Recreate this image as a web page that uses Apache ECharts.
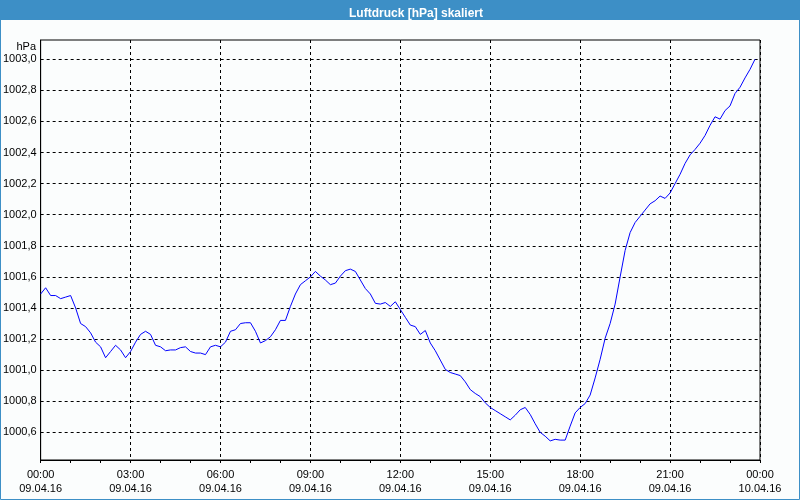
<!DOCTYPE html>
<html>
<head>
<meta charset="utf-8">
<script src="https://cdn.jsdelivr.net/npm/echarts@6/dist/echarts.min.js"></script>
<style>html,body{margin:0;padding:0;background:#fbfdfd}#c{width:800px;height:500px}</style>
</head>
<body>
<div id="c"></div>
<script>
// Sampling: one reading every 10 minutes from 00:00 (09.04.16) to 23:50
const stepMinutes = 10;
// Air pressure readings [hPa]
const pressure = [
  1001.49,1001.53,1001.48,1001.48,1001.46,1001.47,1001.48,1001.40,1001.30,1001.28,
  1001.24,1001.18,1001.15,1001.08,1001.12,1001.16,1001.13,1001.08,1001.12,1001.18,
  1001.23,1001.25,1001.23,1001.16,1001.15,1001.125,1001.13,1001.13,1001.145,1001.15,
  1001.12,1001.11,1001.11,1001.10,1001.15,1001.16,1001.15,1001.18,1001.25,1001.26,
  1001.30,1001.305,1001.305,1001.25,1001.175,1001.19,1001.215,1001.26,1001.32,1001.32,
  1001.41,1001.49,1001.55,1001.575,1001.60,1001.635,1001.605,1001.58,1001.55,1001.56,
  1001.605,1001.64,1001.65,1001.635,1001.58,1001.525,1001.49,1001.43,1001.425,1001.435,
  1001.41,1001.44,1001.39,1001.34,1001.29,1001.28,1001.23,1001.255,1001.175,1001.125,
  1001.065,1001.005,1000.985,1000.975,1000.965,1000.925,1000.875,1000.85,1000.83,1000.79,
  1000.76,1000.74,1000.72,1000.70,1000.68,1000.71,1000.745,1000.76,1000.715,1000.655,
  1000.60,1000.575,1000.545,1000.555,1000.55,1000.55,1000.64,1000.725,1000.76,1000.785,
  1000.84,1000.95,1001.07,1001.205,1001.30,1001.425,1001.60,1001.77,1001.885,1001.95,
  1001.99,1002.03,1002.07,1002.09,1002.12,1002.105,1002.14,1002.20,1002.26,1002.33,
  1002.385,1002.42,1002.46,1002.51,1002.575,1002.63,1002.615,1002.67,1002.70,1002.78,
  1002.82,1002.88,1002.935,1003.00
];
// Axis labels
const hourLabels = ['00:00','03:00','06:00','09:00','12:00','15:00','18:00','21:00','00:00'];
const dateLabels = ['09.04.16','09.04.16','09.04.16','09.04.16','09.04.16','09.04.16','09.04.16','09.04.16','10.04.16'];
const yTicks = [1000.6,1000.8,1001.0,1001.2,1001.4,1001.6,1001.8,1002.0,1002.2,1002.4,1002.6,1002.8,1003.0];

const seriesData = pressure.map((v, i) => [i * stepMinutes, v]);

const font = 'Liberation Sans, Arial, sans-serif';
const chart = echarts.init(document.getElementById('c'), null, {renderer: 'canvas'});
chart.setOption({
  animation: false,
  backgroundColor: '#fbfdfd',
  title: {
    text: 'Luftdruck [hPa] skaliert',
    left: 411, top: 3, textAlign: 'center',
    textStyle: {color: '#ffffff', fontSize: 12, fontWeight: 'bold', fontFamily: font}
  },
  graphic: [
    {type: 'rect', z: -1, shape: {x: 0, y: 0, width: 800, height: 20}, style: {fill: '#3d8fc6'}},
    {type: 'rect', z: 10, silent: true, shape: {x: 0.5, y: 0.5, width: 799, height: 499}, style: {fill: 'none', stroke: '#3d8fc6', lineWidth: 1}},
    {type: 'text', x: 36, y: 47, style: {text: 'hPa', fill: '#000', font: '11px ' + font, textAlign: 'right', textVerticalAlign: 'middle'}}
  ],
  grid: {left: 40, right: 40, top: 40, bottom: 40, show: true, borderColor: '#000', borderWidth: 1, backgroundColor: 'transparent'},
  xAxis: {
    type: 'value', min: 0, max: 1440, interval: 180,
    axisLine: {lineStyle: {color: '#000', width: 1}},
    axisTick: {show: true, length: 3, lineStyle: {color: '#000'}},
    minorTick: {show: true, splitNumber: 3, length: 3, lineStyle: {color: '#000'}},
    minorSplitLine: {show: false},
    splitLine: {show: true, lineStyle: {color: '#000', type: [3, 3], width: 1}},
    axisLabel: {
      margin: 8, color: '#000', fontSize: 11, fontFamily: font, lineHeight: 14,
      formatter: v => { const k = Math.round(v / 180); return hourLabels[k] + '\n' + dateLabels[k]; }
    }
  },
  yAxis: {
    type: 'value', min: 1000.422, max: 1003.124,
    axisLine: {show: true, lineStyle: {color: '#000', width: 1}},
    axisTick: {show: false, customValues: yTicks},
    splitLine: {show: true, lineStyle: {color: '#000', type: [3, 3], width: 1}},
    axisLabel: {
      customValues: yTicks, margin: 4, color: '#000', fontSize: 11, fontFamily: font,
      formatter: v => v.toFixed(1).replace('.', ',')
    }
  },
  series: [{
    type: 'line', data: seriesData, showSymbol: false, symbol: 'none',
    lineStyle: {color: '#0000ff', width: 1}, itemStyle: {color: '#0000ff'}
  }]
});
</script>
</body>
</html>
